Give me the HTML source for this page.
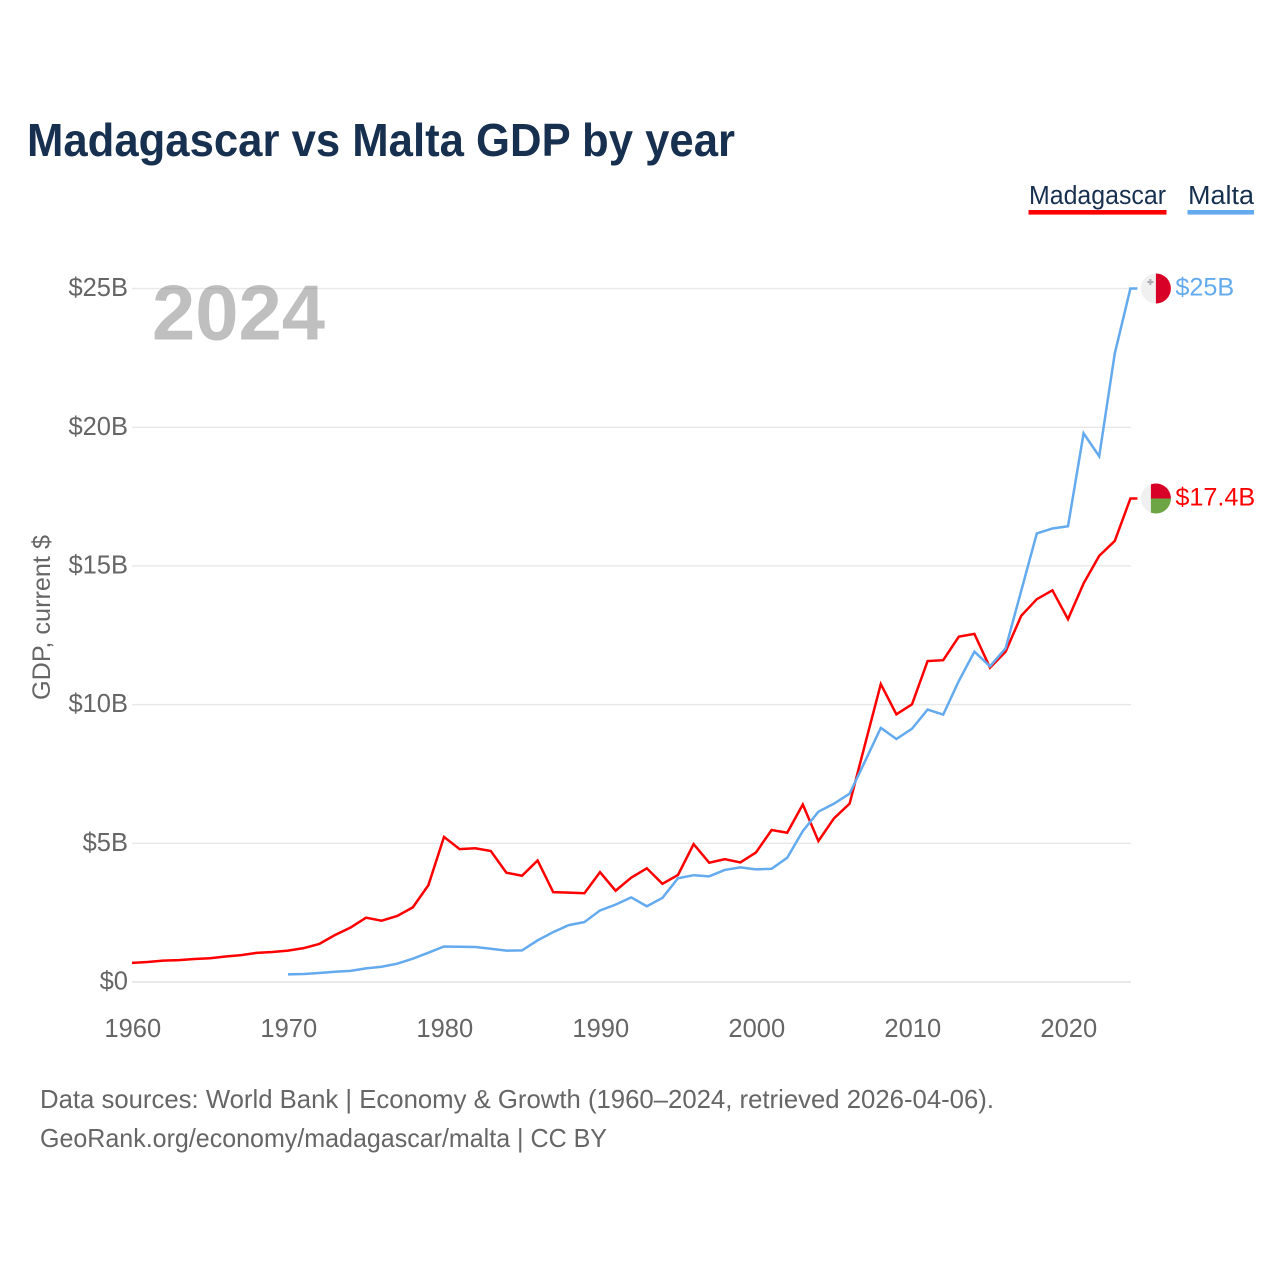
<!DOCTYPE html>
<html lang="en">
<head>
<meta charset="utf-8">
<title>Madagascar vs Malta GDP by year</title>
<style>
html,body{margin:0;padding:0;background:#fff;}
svg{display:block;font-family:"Liberation Sans",Arial,sans-serif;}
</style>
</head>
<body>
<svg id="chart" xmlns="http://www.w3.org/2000/svg" width="1280" height="1280" viewBox="0 0 1280 1280">
  <rect x="0" y="0" width="1280" height="1280" fill="#ffffff"/>
  <text x="27" y="156" font-size="46" font-weight="700" fill="#17304f" textLength="708" lengthAdjust="spacingAndGlyphs">Madagascar vs Malta GDP by year</text>

  <g>
    <text x="1029" y="204" font-size="25.5" fill="#17304f" textLength="137" lengthAdjust="spacingAndGlyphs">Madagascar</text>
    <rect x="1028.5" y="210" width="138" height="4.6" fill="#ff0000"/>
  </g>
  <g>
    <text x="1188" y="204" font-size="25.5" fill="#17304f" textLength="66" lengthAdjust="spacingAndGlyphs">Malta</text>
    <rect x="1187.5" y="210" width="66.5" height="4.6" fill="#63aaee"/>
  </g>

  <text transform="translate(50,700) rotate(-90)" font-size="25" fill="#666666" textLength="165" lengthAdjust="spacingAndGlyphs">GDP, current $</text>

  <g id="grid"></g>
  <g id="yticks"></g>
  <g id="xticks"></g>

  <text id="yearLabel" x="152" y="339.5" font-size="78" font-weight="700" fill="#808080" fill-opacity="0.5" textLength="173" lengthAdjust="spacingAndGlyphs"></text>

  <g id="series"></g>
  <g id="ends"></g>

  <text x="40" y="1108" font-size="26" fill="#666666" textLength="954" lengthAdjust="spacingAndGlyphs">Data sources: World Bank | Economy &amp; Growth (1960–2024, retrieved 2026-04-06).</text>
  <text x="40" y="1147" font-size="26" fill="#666666" textLength="567" lengthAdjust="spacingAndGlyphs">GeoRank.org/economy/madagascar/malta | CC BY</text>
</svg>
<script>
var years = [1960,1961,1962,1963,1964,1965,1966,1967,1968,1969,
  1970,1971,1972,1973,1974,1975,1976,1977,1978,1979,
  1980,1981,1982,1983,1984,1985,1986,1987,1988,1989,
  1990,1991,1992,1993,1994,1995,1996,1997,1998,1999,
  2000,2001,2002,2003,2004,2005,2006,2007,2008,2009,
  2010,2011,2012,2013,2014,2015,2016,2017,2018,2019,
  2020,2021,2022,2023,2024];
var madagascarValues = [0.69,0.72,0.77,0.79,0.83,0.855,0.92,0.97,1.05,1.08,
  1.13,1.22,1.37,1.69,1.96,2.32,2.21,2.38,2.69,3.49,
  5.23,4.79,4.82,4.72,3.94,3.83,4.38,3.24,3.22,3.20,
  3.96,3.29,3.76,4.10,3.54,3.86,4.97,4.30,4.43,4.31,
  4.67,5.48,5.38,6.40,5.08,5.90,6.43,8.59,10.74,9.65,
  10.01,11.57,11.60,12.45,12.55,11.33,11.91,13.20,13.80,14.12,
  13.08,14.37,15.36,15.90,17.43];
var maltaValues = [null,null,null,null,null,null,null,null,null,null,
  0.277,0.29,0.325,0.37,0.40,0.49,0.55,0.66,0.84,1.056,
  1.28,1.27,1.26,1.20,1.13,1.14,1.50,1.80,2.05,2.16,
  2.58,2.79,3.05,2.73,3.03,3.74,3.85,3.81,4.04,4.13,
  4.06,4.08,4.48,5.44,6.14,6.43,6.79,7.97,9.16,8.76,
  9.13,9.82,9.64,10.85,11.91,11.38,12.03,14.10,16.17,16.35,
  16.43,19.78,18.95,22.66,25.0];
var yTickValues = [0,5,10,15,20,25];
var xTickValues = [1960,1970,1980,1990,2000,2010,2020];

var NS = 'http://www.w3.org/2000/svg';
function xScale(year){ return 132 + (year - 1960) * 15.6; }
function yScale(v){ return 982 - v * 27.74; }
function money(v){ return '$' + (+v.toFixed(1)) + (v === 0 ? '' : 'B'); }
function make(tag, attrs, parent){
  var el = document.createElementNS(NS, tag);
  for (var k in attrs) el.setAttribute(k, attrs[k]);
  parent.appendChild(el);
  return el;
}
var grid = document.getElementById('grid');
var yticks = document.getElementById('yticks');
var xticks = document.getElementById('xticks');
var seriesG = document.getElementById('series');
var ends = document.getElementById('ends');

document.getElementById('yearLabel').textContent = years[years.length - 1];

yTickValues.forEach(function(v){
  var line = make('line', {x1:132, x2:1131, y1:yScale(v), y2:yScale(v), stroke:'#e9e9e9', 'stroke-width': v === 0 ? 2 : 1.5}, grid);
  
  
  var t = make('text', {x:128, y:yScale(v) + 7.6, 'text-anchor':'end', 'font-size':25.5, fill:'#666666'}, yticks);
  
  
  t.textContent = money(v);
});

xTickValues.forEach(function(y){
  var t = make('text', {x:xScale(y) + 0.8, y:1037, 'text-anchor':'middle', 'font-size':25.5, fill:'#666666'}, xticks);
  
  
  t.textContent = y;
});

function drawSeries(values, color, name){
  var pts = [];
  values.forEach(function(v, i){
    if (v !== null) pts.push(xScale(years[i]).toFixed(2) + ',' + yScale(v).toFixed(2));
  });
  var lastV = values[values.length - 1];
  var lastY = yScale(lastV);
  var lastX = xScale(years[years.length - 1]);
  pts.push((lastX + 7).toFixed(2) + ',' + lastY.toFixed(2));
  var line = make('polyline', {points:pts.join(' '), fill:'none', stroke:color, 'stroke-width':2.5, 'stroke-linejoin':'miter', 'stroke-linecap':'butt'}, seriesG);
  
  
  var label = make('text', {x:lastX + 45, y:lastY + 6.8, 'font-size':25.2, fill:color}, ends);
  
  
  label.textContent = money(lastV);
  return {x:lastX + 25.5, y:lastY};
}

drawSeries(madagascarValues, '#ff0000', 'madagascar');
drawSeries(maltaValues, '#63aaee', 'malta');

function flagGroup(name, cx, cy){
  var g = make('g', {transform:'translate(' + cx + ',' + cy + ')'}, ends);
  
  
  return g;
}
var mdY = yScale(madagascarValues[madagascarValues.length - 1]);
var mtY = yScale(maltaValues[maltaValues.length - 1]);
var flagX = xScale(years[years.length - 1]) + 25.5;

var mt = flagGroup('malta-flag', flagX, mtY);
make('circle', {cx:0, cy:0, r:15, fill:'#f0f0f0'}, mt);
make('path', {d:'M0,-15 A15,15 0 0 1 0,15 Z', fill:'#d80027'}, mt);
make('path', {d:'M-6.5,-9.5 h2 v2 h2 v2 h-2 v2 h-2 v-2 h-2 v-2 h2 Z', fill:'#acabb1'}, mt);

var md = flagGroup('madagascar-flag', flagX, mdY);
make('circle', {cx:0, cy:0, r:15, fill:'#f0f0f0'}, md);
make('path', {d:'M-5,0 V-14.14 A15,15 0 0 1 15,0 Z', fill:'#d80027'}, md);
make('path', {d:'M-5,0 V14.14 A15,15 0 0 0 15,0 Z', fill:'#6da544'}, md);
</script>
</body>
</html>
